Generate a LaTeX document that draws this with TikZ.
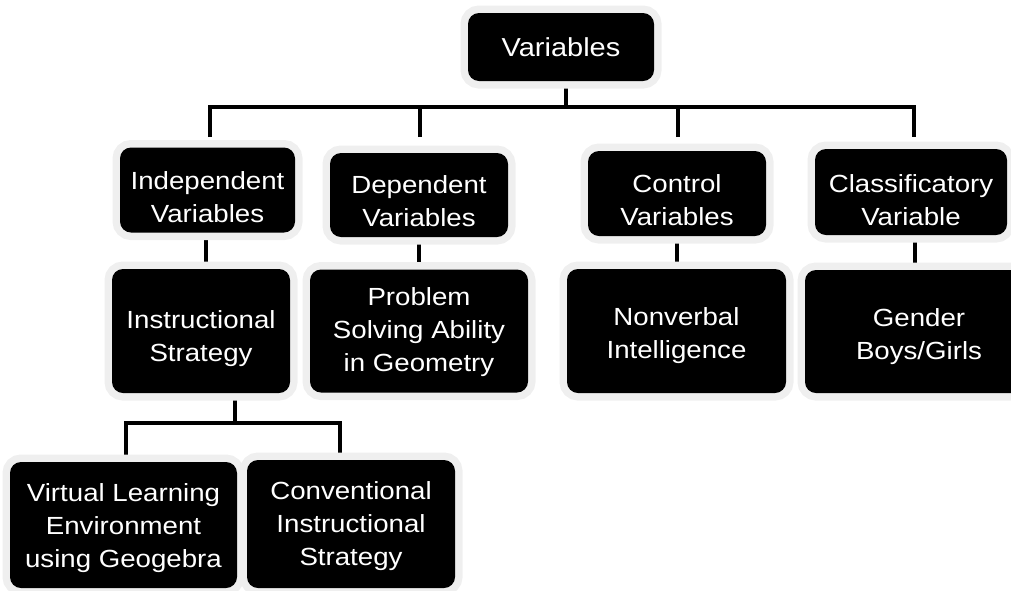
\documentclass[tikz,border=0pt]{standalone}
\usepackage{fontspec}
\setmainfont{Liberation Sans}[FakeStretch=1.115]
\usetikzlibrary{backgrounds}
\definecolor{glow}{HTML}{EFEFEF}
\newcommand\upstrut[1]{\rule{0pt}{#1pt}}
\begin{document}
\begin{tikzpicture}[x=1pt,y=-1pt,
  vbox/.style={fill=black, text=white, rounded corners=11pt, inner sep=0pt,
    align=center, font=\fontsize{24.8}{33}\selectfont,
    execute at end node={\rule[-10pt]{0pt}{10pt}},
    preaction={draw=glow, line width=15pt}},
  lnk/.style={line width=3.2pt, black}]
\useasboundingbox (0,0) rectangle (1011,590);

\node[vbox, font=\fontsize{26}{33}\selectfont, minimum width=186pt, minimum height=68pt] (top) at (561,47) {\upstrut{29}Variables};

\node[vbox, minimum width=175pt, minimum height=84pt] (ind) at (207.5,190) {\upstrut{42}Independent\\Variables};
\node[vbox, minimum width=178pt, minimum height=84pt] (dep) at (419,195) {\upstrut{39}Dependent\\Variables};
\node[vbox, minimum width=178pt, minimum height=85pt] (ctl) at (677,193.5) {\upstrut{40}Control\\Variables};
\node[vbox, minimum width=192pt, minimum height=82pt] (cls) at (911,192) {\upstrut{43}Classificatory\\Variable};

\node[vbox, minimum width=178pt, minimum height=124pt] (ins) at (201,331) {\upstrut{37}Instructional\\Strategy};
\node[vbox, minimum width=218pt, minimum height=123pt] (prb) at (419,331) {\upstrut{24}Problem\\Solving Ability\\in Geometry};
\node[vbox, minimum width=219pt, minimum height=124pt] (nvi) at (676.5,331) {\upstrut{32}Nonverbal\\Intelligence};
\node[vbox, minimum width=228pt, minimum height=123pt] (gen) at (919,331.5) {\upstrut{32}Gender\\Boys/Girls};

\node[vbox, minimum width=227pt, minimum height=126pt] (vle) at (123.5,525) {\upstrut{28}Virtual Learning\\Environment\\using Geogebra};
\node[vbox, minimum width=208pt, minimum height=128pt] (cis) at (351,524) {\upstrut{27}Conventional\\Instructional\\Strategy};

\coordinate (bus) at (566,107);
\coordinate (d1) at (210,137);
\coordinate (d2) at (420,137);
\coordinate (d3) at (678,137);
\coordinate (d4) at (914,137);
\coordinate (b2) at (235,423);
\coordinate (e1) at (126,455);
\coordinate (e2) at (340,455);

\begin{scope}[on background layer]
\draw[lnk] (top.south -| bus) -- (bus);
\draw[lnk] (d1) -- (d1 |- bus) -- (d4 |- bus) -- (d4);
\draw[lnk] (d2) -- (d2 |- bus);
\draw[lnk] (d3) -- (d3 |- bus);
\draw[lnk] ([xshift=-1.5pt]ind.south) -- ([xshift=-1.5pt]ind.south |- ins.north);
\draw[lnk] (dep.south) -- (dep.south |- prb.north);
\draw[lnk] (ctl.south) -- (ctl.south |- nvi.north);
\draw[lnk] ([xshift=4pt]cls.south) -- ([xshift=4pt]cls.south |- gen.north);
\draw[lnk] (ins.south -| b2) -- (b2);
\draw[lnk] (e1) -- (e1 |- b2) -- (e2 |- b2) -- (e2);
\end{scope}
\end{tikzpicture}
\end{document}
